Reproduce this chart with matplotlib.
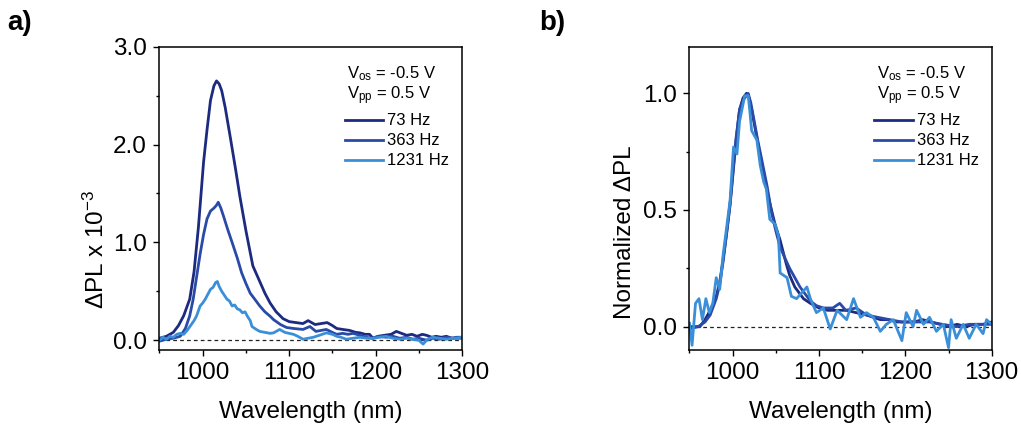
import matplotlib
matplotlib.use("Agg")
import matplotlib.pyplot as plt
from matplotlib.ticker import MultipleLocator, FormatStrFormatter

plt.rcParams["font.family"] = ["Liberation Sans", "DejaVu Sans"]
plt.rcParams["mathtext.default"] = "regular"

# ---- panel a: raw dPL (x 1e-3) ----
wl_73a = [950, 958, 966, 972, 978, 985, 990, 995, 1001, 1005, 1009, 1013, 1016, 1019, 1022, 1026,
          1032, 1038, 1043, 1050, 1058, 1066, 1072, 1078, 1085, 1093, 1100, 1108, 1116, 1122, 1130,
          1137, 1144, 1150, 1155, 1162, 1170, 1177, 1182, 1188, 1193, 1197, 1203, 1210, 1218, 1224,
          1230, 1236, 1242, 1248, 1254, 1259, 1265, 1270, 1276, 1282, 1288, 1294, 1300]
pl_73a = [0.02, 0.04, 0.08, 0.15, 0.25, 0.42, 0.70, 1.15, 1.82, 2.15, 2.45, 2.60, 2.65, 2.62, 2.55, 2.38,
          2.07, 1.75, 1.47, 1.12, 0.76, 0.60, 0.48, 0.38, 0.29, 0.22, 0.19, 0.18, 0.17, 0.20, 0.16,
          0.17, 0.18, 0.15, 0.12, 0.11, 0.10, 0.08, 0.075, 0.06, 0.06, 0.02, 0.04, 0.05, 0.06, 0.09,
          0.07, 0.05, 0.06, 0.04, 0.06, 0.05, 0.03, 0.04, 0.03, 0.04, 0.02, 0.03, 0.03]

wl_363a = [950, 958, 966, 974, 980, 985, 989, 993, 997, 1001, 1005, 1009, 1013, 1016, 1018, 1021,
           1024, 1029, 1034, 1040, 1045, 1050, 1055, 1061, 1066, 1072, 1078, 1082, 1090, 1097, 1105,
           1116, 1124, 1131, 1137, 1143, 1150, 1155, 1162, 1168, 1174, 1182, 1189, 1196, 1204, 1212,
           1220, 1228, 1236, 1243, 1250, 1259, 1266, 1274, 1282, 1290, 1300]
pl_363a = [-0.01, 0.01, 0.02, 0.04, 0.12, 0.25, 0.42, 0.65, 0.88, 1.08, 1.24, 1.32, 1.35, 1.38, 1.41, 1.35,
           1.27, 1.13, 1.00, 0.84, 0.69, 0.58, 0.48, 0.41, 0.35, 0.29, 0.245, 0.21, 0.16, 0.13, 0.12,
           0.11, 0.14, 0.09, 0.10, 0.11, 0.08, 0.06, 0.07, 0.06, 0.07, 0.05, 0.03, 0.02, 0.04, 0.03,
           0.04, 0.02, 0.03, 0.01, 0.02, 0.0, 0.02, 0.01, 0.03, 0.02, 0.02]

wl_1231a = [950, 954, 958, 962, 966, 970, 974, 978, 982, 986, 990, 993, 997, 1000, 1003, 1006, 1009,
            1012, 1015, 1017, 1019, 1022, 1025, 1028, 1031, 1034, 1037, 1040, 1043, 1046, 1049, 1052,
            1055, 1057, 1062, 1066, 1072, 1078, 1082, 1089, 1095, 1100, 1105, 1110, 1116, 1122, 1128,
            1135, 1143, 1150, 1155, 1160, 1166, 1174, 1182, 1190, 1197, 1205, 1212, 1220, 1228, 1236,
            1243, 1250, 1255, 1260, 1266, 1274, 1282, 1290, 1300]
pl_1231a = [0.0, 0.03, 0.01, 0.04, 0.03, 0.06, 0.07, 0.06, 0.10, 0.15, 0.20, 0.25, 0.35, 0.38, 0.42, 0.47, 0.52,
            0.54, 0.59, 0.60, 0.55, 0.50, 0.46, 0.42, 0.40, 0.35, 0.36, 0.32, 0.31, 0.28, 0.29, 0.24,
            0.20, 0.14, 0.11, 0.09, 0.08, 0.07, 0.075, 0.11, 0.08, 0.07, 0.06, 0.04, 0.01, 0.02, 0.03,
            0.05, 0.075, 0.06, 0.04, 0.03, 0.01, 0.02, 0.03, 0.02, 0.02, 0.03, 0.04, 0.02, 0.01, 0.02,
            0.01, 0.0, -0.04, 0.01, 0.03, 0.02, 0.01, 0.02, 0.03]

# ---- panel b: normalized dPL ----
wl_73b = [950, 962, 968, 974, 981, 985, 989, 993, 997, 1001, 1004, 1008, 1012, 1016, 1019, 1022, 1027,
          1032, 1037, 1043, 1049, 1055, 1062, 1066, 1072, 1078, 1082, 1090, 1100, 1110, 1120, 1132,
          1143, 1155, 1163, 1171, 1180, 1190, 1200, 1210, 1220, 1230, 1240, 1250, 1260, 1270, 1280,
          1290, 1300]
pl_73b = [0.0, 0.0, 0.03, 0.07, 0.13, 0.19, 0.29, 0.40, 0.52, 0.68, 0.80, 0.93, 0.98, 1.0, 0.98, 0.93, 0.83,
          0.73, 0.63, 0.53, 0.44, 0.37, 0.27, 0.22, 0.17, 0.14, 0.12, 0.10, 0.08, 0.07, 0.07, 0.07,
          0.06, 0.05, 0.04, 0.03, 0.03, 0.02, 0.02, 0.02, 0.03, 0.02, 0.01, 0.0, 0.01, 0.0, 0.01,
          0.01, 0.02]

wl_363b = [950, 960, 968, 974, 981, 985, 989, 993, 997, 1001, 1004, 1008, 1012, 1016, 1018, 1021, 1024,
           1029, 1034, 1040, 1045, 1050, 1055, 1061, 1066, 1072, 1078, 1082, 1090, 1097, 1105, 1116,
           1124, 1131, 1143, 1155, 1168, 1182, 1196, 1212, 1228, 1243, 1259, 1274, 1290, 1300]
pl_363b = [-0.01, 0.0, 0.02, 0.05, 0.12, 0.18, 0.28, 0.40, 0.53, 0.69, 0.81, 0.93, 0.97, 0.99, 1.0, 0.96, 0.90,
           0.80, 0.71, 0.60, 0.49, 0.41, 0.34, 0.29, 0.25, 0.21, 0.17, 0.15, 0.11, 0.09, 0.08, 0.08,
           0.10, 0.07, 0.08, 0.05, 0.04, 0.03, 0.02, 0.02, 0.02, 0.01, 0.0, 0.01, 0.01, 0.01]

wl_1231b = [950, 953, 957, 961, 965, 969, 973, 977, 981, 985, 989, 997, 1001, 1005, 1008, 1014, 1018,
            1020, 1022, 1028, 1032, 1036, 1039, 1043, 1049, 1053, 1055, 1063, 1068, 1074, 1086, 1090,
            1097, 1105, 1113, 1121, 1132, 1140, 1148, 1155, 1163, 1171, 1178, 1186, 1196, 1201, 1209,
            1213, 1221, 1228, 1236, 1244, 1250, 1253, 1259, 1267, 1274, 1282, 1290, 1294, 1300]
pl_1231b = [0.015, -0.08, 0.10, 0.12, 0.03, 0.12, 0.06, 0.10, 0.21, 0.16, 0.31, 0.54, 0.77, 0.74, 0.88, 0.99, 0.99,
            0.92, 0.84, 0.80, 0.69, 0.62, 0.59, 0.46, 0.44, 0.39, 0.23, 0.21, 0.13, 0.12, 0.17, 0.12,
            0.06, 0.08, -0.01, 0.07, 0.03, 0.12, 0.04, 0.06, 0.04, -0.02, 0.01, 0.03, -0.06, 0.06, 0.0,
            0.07, 0.01, 0.04, -0.02, 0.01, -0.09, 0.03, -0.05, 0.01, -0.05, 0.01, -0.03, 0.03, 0.01]

labels = ["73 Hz", "363 Hz", "1231 Hz"]
colors = ["#1c2a80", "#2a4aa8", "#3b8fd8"]

fig = plt.figure(figsize=(10.21, 4.25), dpi=100)
ax1 = fig.add_axes([0.1562, 0.1765, 0.2963, 0.7137])
ax2 = fig.add_axes([0.6753, 0.1765, 0.2960, 0.7137])

series_a = [(wl_73a, pl_73a), (wl_363a, pl_363a), (wl_1231a, pl_1231a)]
series_b = [(wl_73b, pl_73b), (wl_363b, pl_363b), (wl_1231b, pl_1231b)]

for ax, series in [(ax1, series_a), (ax2, series_b)]:
    ax.axhline(0, color="#222222", lw=0.9, ls=(0, (3, 2.5)), zorder=1)
    for (x, y), lab, c in zip(series, labels, colors):
        ax.plot(x, y, color=c, lw=2.0, label=lab, zorder=2)
    ax.set_xlim(950, 1300)
    ax.xaxis.set_major_locator(MultipleLocator(100))
    ax.xaxis.set_minor_locator(MultipleLocator(50))
    ax.set_xlabel("Wavelength (nm)", fontsize=17.5, labelpad=12)
    for s in ax.spines.values():
        s.set_linewidth(1.1)
    ax.tick_params(which="major", direction="out", length=4, width=1.0, labelsize=17.5, pad=5)
    ax.tick_params(which="minor", direction="out", length=2.5, width=1.0)
    ax.text(0.619, 0.895, "V$_{os}$ = -0.5 V", transform=ax.transAxes, fontsize=12, va="baseline")
    ax.text(0.619, 0.826, "V$_{pp}$ = 0.5 V", transform=ax.transAxes, fontsize=12, va="baseline")
    ax.legend(loc="upper left", bbox_to_anchor=(0.612, 0.78), frameon=False, fontsize=12,
              handlelength=2.3, handletextpad=0.25, labelspacing=0.3, borderpad=0,
              borderaxespad=0)

ax1.set_ylim(-0.1, 3.0)
ax1.yaxis.set_major_locator(MultipleLocator(1.0))
ax1.yaxis.set_minor_locator(MultipleLocator(0.5))
ax1.yaxis.set_major_formatter(FormatStrFormatter("%.1f"))
ax1.set_ylabel("ΔPL x 10$^{-3}$", fontsize=17.5, va="center")
ax1.yaxis.set_label_coords(-0.208, 0.333)

ax2.set_ylim(-0.1, 1.2)
ax2.yaxis.set_major_locator(MultipleLocator(0.5))
ax2.yaxis.set_minor_locator(MultipleLocator(0.25))
ax2.yaxis.set_major_formatter(FormatStrFormatter("%.1f"))
ax2.set_ylabel("Normalized ΔPL", fontsize=17.5, va="center")
ax2.yaxis.set_label_coords(-0.215, 0.39)

fig.text(0.007, 0.947, "a)", fontsize=20, fontweight="bold", va="center")
fig.text(0.528, 0.947, "b)", fontsize=20, fontweight="bold", va="center")

fig.savefig("out.png", dpi=100)
